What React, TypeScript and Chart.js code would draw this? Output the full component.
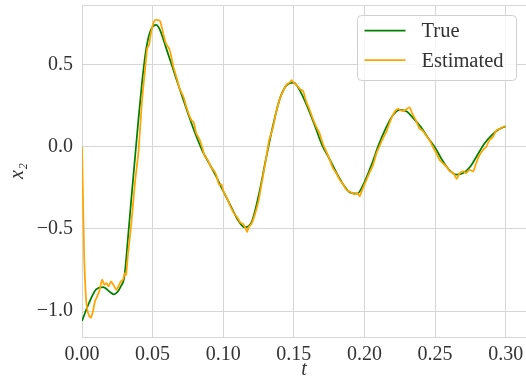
import React, { useEffect, useRef } from 'react';
import { Chart, registerables } from 'chart.js';

Chart.register(...registerables);

// ---- data ----
const tTrue = [
  0, 0.005, 0.01, 0.015, 0.02, 0.0225, 0.025, 0.0275, 0.03, 0.0325, 0.035, 0.0375, 0.04, 0.0425,
  0.045, 0.0475, 0.05, 0.0525, 0.055, 0.06, 0.065, 0.07, 0.075, 0.08, 0.085, 0.09, 0.095, 0.1,
  0.105, 0.11, 0.115, 0.12, 0.125, 0.13, 0.135, 0.14, 0.145, 0.15, 0.155, 0.16, 0.165, 0.17,
  0.175, 0.18, 0.185, 0.19, 0.195, 0.2, 0.205, 0.21, 0.215, 0.22, 0.225, 0.23, 0.235, 0.24,
  0.245, 0.25, 0.255, 0.26, 0.265, 0.27, 0.275, 0.28, 0.285, 0.29, 0.295, 0.3,
];
const xTrue = [
  -1.06, -0.95, -0.868, -0.855, -0.885, -0.898, -0.885, -0.85, -0.79, -0.56, -0.31, -0.07, 0.17, 0.39,
  0.57, 0.68, 0.73, 0.742, 0.715, 0.59, 0.46, 0.33, 0.205, 0.085, -0.02, -0.1, -0.18, -0.27,
  -0.355, -0.44, -0.49, -0.46, -0.3, -0.085, 0.12, 0.29, 0.375, 0.39, 0.33, 0.235, 0.125, 0.01,
  -0.07, -0.155, -0.23, -0.28, -0.285, -0.215, -0.11, 0.01, 0.11, 0.19, 0.225, 0.215, 0.17, 0.12,
  0.055, -0.005, -0.08, -0.14, -0.17, -0.16, -0.12, -0.05, 0.02, 0.07, 0.105, 0.125,
];
const tEst = [
  0, 0.0008, 0.0016, 0.0025, 0.0035, 0.005, 0.0063, 0.0078, 0.0092, 0.0108, 0.0125, 0.0142,
  0.0158, 0.0172, 0.0188, 0.0205, 0.0222, 0.0242, 0.0258, 0.0275, 0.029, 0.0304, 0.0312, 0.0325,
  0.035, 0.0375, 0.04, 0.0425, 0.045, 0.0462, 0.0475, 0.049, 0.0505, 0.0515, 0.0545, 0.0555,
  0.0575, 0.059, 0.06, 0.0615, 0.0627, 0.0646, 0.067, 0.0693, 0.071, 0.072, 0.074, 0.076,
  0.0776, 0.079, 0.081, 0.083, 0.085, 0.087, 0.089, 0.091, 0.093, 0.095, 0.097, 0.0988,
  0.1, 0.102, 0.104, 0.106, 0.108, 0.11, 0.112, 0.114, 0.1155, 0.1169, 0.118, 0.12,
  0.1225, 0.125, 0.1275, 0.13, 0.1325, 0.135, 0.1375, 0.14, 0.1425, 0.145, 0.147, 0.1483,
  0.15, 0.1525, 0.1545, 0.1565, 0.159, 0.161, 0.1635, 0.166, 0.1683, 0.1705, 0.173, 0.1755,
  0.1777, 0.18, 0.1824, 0.185, 0.187, 0.189, 0.191, 0.193, 0.195, 0.1966, 0.199, 0.201,
  0.2035, 0.2061, 0.2085, 0.211, 0.213, 0.2155, 0.218, 0.22, 0.222, 0.224, 0.226, 0.228,
  0.23, 0.232, 0.234, 0.2365, 0.239, 0.241, 0.2435, 0.2461, 0.2485, 0.251, 0.2532, 0.2555,
  0.258, 0.2605, 0.263, 0.2653, 0.2675, 0.27, 0.272, 0.2745, 0.277, 0.2791, 0.2815, 0.284,
  0.2862, 0.2885, 0.291, 0.2935, 0.296, 0.298, 0.3,
];
const xEst = [
  0.0, -0.35, -0.69, -0.88, -0.98, -1.03, -1.04, -1.0, -0.94, -0.91, -0.87, -0.81,
  -0.84, -0.83, -0.85, -0.82, -0.84, -0.87, -0.85, -0.82, -0.81, -0.77, -0.78, -0.66,
  -0.46, -0.22, -0.03, 0.28, 0.5, 0.6, 0.62, 0.7, 0.75, 0.77, 0.77, 0.76,
  0.69, 0.64, 0.62, 0.6, 0.57, 0.49, 0.42, 0.35, 0.32, 0.3, 0.24, 0.19,
  0.16, 0.15, 0.08, 0.05, 0.0, -0.06, -0.08, -0.12, -0.14, -0.17, -0.23, -0.23,
  -0.27, -0.3, -0.34, -0.38, -0.41, -0.43, -0.46, -0.47, -0.49, -0.52, -0.49, -0.47,
  -0.41, -0.33, -0.21, -0.09, 0.04, 0.11, 0.21, 0.29, 0.34, 0.38, 0.39, 0.405,
  0.39, 0.37, 0.35, 0.34, 0.27, 0.23, 0.17, 0.12, 0.08, 0.02, -0.03, -0.08,
  -0.13, -0.16, -0.2, -0.23, -0.26, -0.27, -0.28, -0.29, -0.28, -0.3, -0.25, -0.21,
  -0.16, -0.11, -0.04, 0.01, 0.05, 0.09, 0.15, 0.19, 0.22, 0.23, 0.22, 0.22,
  0.23, 0.24, 0.2, 0.16, 0.11, 0.1, 0.07, 0.04, 0.0, -0.04, -0.08, -0.1,
  -0.12, -0.15, -0.16, -0.195, -0.16, -0.15, -0.16, -0.14, -0.15, -0.1, -0.05, -0.02,
  0.0, 0.04, 0.06, 0.1, 0.11, 0.12, 0.125,
];
const xTicks = [0.0, 0.05, 0.1, 0.15, 0.2, 0.25, 0.3];
const yTicks = [-1.0, -0.5, 0.0, 0.5];
const seriesLabels = ['True', 'Estimated'];
const seriesColors = ['#008000', '#FFA500'];
const xTitle = 't';
const yTitle = 'x₂';

const FONT = "'Liberation Serif', 'DejaVu Serif', serif";
const TEXT = '#333333';
const GRID = '#d6d6d6';

const framePlugin = {
  id: 'frame',
  beforeDatasetsDraw(chart: any) {
    const { ctx, chartArea: a } = chart;
    ctx.save();
    ctx.strokeStyle = GRID;
    ctx.lineWidth = 1;
    ctx.beginPath();
    const l = Math.round(a.left) + 0.5;
    const t = Math.round(a.top) + 0.5;
    const b = Math.round(a.bottom) + 0.5;
    ctx.moveTo(a.right + 2, t);
    ctx.lineTo(l, t);
    ctx.lineTo(l, b);
    ctx.lineTo(a.right + 2, b);
    ctx.stroke();
    ctx.restore();
  },
};

const legendPlugin = {
  id: 'boxLegend',
  afterDraw(chart: any) {
    const { ctx, chartArea: a } = chart;
    const w = 159;
    const h = 65;
    const x0 = a.right - 10 - w + 0.5;
    const y0 = a.top + 10.5;
    ctx.save();
    ctx.beginPath();
    ctx.roundRect(x0, y0, w, h, 4);
    ctx.fillStyle = 'rgba(255,255,255,0.8)';
    ctx.fill();
    ctx.strokeStyle = '#d0d0d0';
    ctx.lineWidth = 1;
    ctx.stroke();
    const ds = chart.data.datasets;
    const order = [1, 0];
    ctx.font = `20.5px ${FONT}`;
    ctx.textBaseline = 'middle';
    ctx.textAlign = 'left';
    order.forEach((idx, i) => {
      const y = y0 + 15 + i * 29.7;
      ctx.strokeStyle = ds[idx].borderColor;
      ctx.lineWidth = 1.75;
      ctx.beginPath();
      ctx.moveTo(x0 + 7, y);
      ctx.lineTo(x0 + 48, y);
      ctx.stroke();
      ctx.fillStyle = TEXT;
      ctx.fillText(ds[idx].label, x0 + 64, y + 1);
    });
    ctx.restore();
  },
};

export default function App() {
  const ref = useRef<HTMLCanvasElement | null>(null);

  useEffect(() => {
    const canvas = ref.current;
    if (!canvas) return;
    const estData = tEst.map((t, i) => ({ x: t, y: xEst[i] }));
    const trueData = tTrue.map((t, i) => ({ x: t, y: xTrue[i] }));
    const chart = new Chart(canvas, {
      type: 'line',
      data: {
        datasets: [
          {
            label: seriesLabels[1],
            data: estData,
            borderColor: seriesColors[1],
            backgroundColor: seriesColors[1],
            borderWidth: 1.75,
            pointRadius: 0,
            tension: 0.2,
            fill: false,
          },
          {
            label: seriesLabels[0],
            data: trueData,
            borderColor: seriesColors[0],
            backgroundColor: seriesColors[0],
            borderWidth: 1.75,
            pointRadius: 0,
            cubicInterpolationMode: 'monotone',
            fill: false,
          },
        ],
      },
      options: {
        animation: false,
        responsive: false,
        maintainAspectRatio: false,
        devicePixelRatio: 1,
        layout: { padding: { top: 5, left: 0, right: 0, bottom: 0 } },
        plugins: {
          legend: { display: false },
          tooltip: { enabled: false },
        },
        scales: {
          x: {
            type: 'linear',
            min: 0,
            max: 0.3144,
            afterFit: (s: any) => {
              s.height = 52;
              s.paddingLeft = 0;
              s.paddingRight = 0;
              s.paddingTop = 0;
              s.paddingBottom = 0;
            },
            afterBuildTicks: (s: any) => {
              s.ticks = xTicks.map((v) => ({ value: v }));
            },
            ticks: {
              padding: 6,
              color: TEXT,
              font: { family: FONT, size: 20 },
              callback: (v: any) => Number(v).toFixed(2),
              maxRotation: 0,
              autoSkip: false,
            },
            grid: { color: GRID, lineWidth: 1, drawTicks: false },
            border: { display: false },
            title: {
              display: true,
              text: xTitle,
              color: TEXT,
              font: { family: FONT, size: 20, style: 'italic' },
              padding: { top: 0, bottom: 7 },
            },
          },
          y: {
            type: 'linear',
            min: -1.158,
            max: 0.863,
            afterFit: (s: any) => {
              s.width = 82;
              s.paddingLeft = 0;
              s.paddingRight = 0;
              s.paddingTop = 0;
              s.paddingBottom = 0;
            },
            afterBuildTicks: (s: any) => {
              s.ticks = yTicks.map((v) => ({ value: v }));
            },
            ticks: {
              padding: 9,
              color: TEXT,
              font: { family: FONT, size: 20 },
              callback: (v: any) => {
                const n = Number(v);
                const s = Math.abs(n).toFixed(1);
                return n < 0 ? '\u2212' + s : s;
              },
              autoSkip: false,
            },
            grid: { color: GRID, lineWidth: 1, drawTicks: false },
            border: { display: false },
            title: {
              display: true,
              text: yTitle,
              color: TEXT,
              font: { family: FONT, size: 20, style: 'italic' },
              padding: { top: 6, bottom: 0 },
            },
          },
        },
      },
      plugins: [framePlugin, legendPlugin],
    } as any);
    return () => chart.destroy();
  }, []);

  return (
    <div
      style={{
        position: 'fixed',
        left: 0,
        top: 0,
        width: 526,
        height: 389,
        background: '#ffffff',
      }}
    >
      <canvas ref={ref} width={526} height={389} style={{ width: 526, height: 389, display: 'block' }} />
    </div>
  );
}
